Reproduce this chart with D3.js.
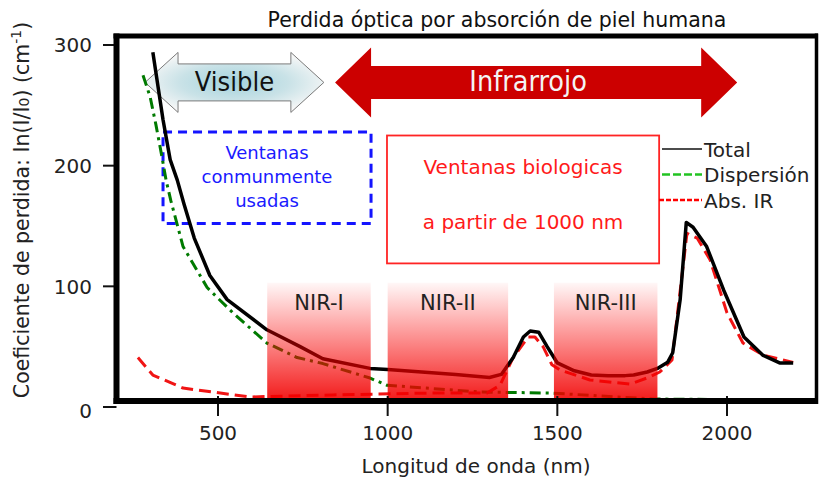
<!DOCTYPE html>
<html>
<head>
<meta charset="utf-8">
<script src="https://cdn.jsdelivr.net/npm/d3@7"></script>
<style>
  body { margin: 0; background: #fff; }
  svg { display: block; font-family: "DejaVu Sans", Verdana, sans-serif; }
  .cond { font-family: "DejaVu Sans Condensed", "DejaVu Sans", sans-serif; font-stretch: condensed; }
</style>
</head>
<body>
<svg id="viz" width="820" height="479"></svg>
<script>
// --- data ---
const totalWl  = [308, 338, 359, 380, 400, 430, 476, 527, 644, 742, 809, 948, 1000, 1100, 1200, 1300, 1335, 1370, 1400, 1420, 1445, 1470, 1490, 1500, 1550, 1600, 1650, 1700, 1725, 1765, 1795, 1825, 1840, 1862, 1880, 1900, 1940, 1990, 2050, 2105, 2155, 2195];
const totalVal = [294, 238, 205, 188, 168, 140, 109, 89, 64, 50, 40, 32, 31, 29, 27, 24.5, 27, 41, 58, 63, 62, 50, 41, 36.5, 30, 26.5, 26, 26, 26.5, 29, 32, 37, 45, 89, 153, 149, 133, 97, 58, 43, 36.5, 36.5];

const dispWl  = [279, 300, 317, 335, 347, 361, 397, 468, 544, 644, 733, 809, 948, 998, 1272, 1478, 1782, 2195];
const dispVal = [275, 257, 234, 207, 188, 171, 133, 99, 78, 53, 41, 36, 24, 18, 12.4, 11.6, 6.6, 5.8];

const absWl  = [264, 308, 397, 594, 839, 1134, 1293, 1331, 1369, 1414, 1434, 1458, 1484, 1508, 1596, 1714, 1764, 1802, 1838, 1882, 1912, 1950, 2000, 2047, 2106, 2195];
const absVal = [41, 26.5, 15.7, 8.3, 10, 11.6, 11.6, 18, 40.6, 58, 58, 50, 35, 30.7, 22.4, 19, 24, 29, 39, 144, 140, 122, 78, 53, 43, 37];

const nirLabels = ["NIR-I", "NIR-II", "NIR-III"];
const nirStart  = [645, 1000, 1490];
const nirEnd    = [950, 1355, 1795];
const nirTop    = 103;

const arrowLabels = ["Visible", "Infrarrojo"];
const arrowFrom   = [285, 845];
const arrowTo     = [812, 2030];
const arrowLevel  = 269;

const blueBoxWl = [338, 951], blueBoxVal = [152, 228];
const blueText  = ["Ventanas", "conmunmente", "usadas"];
const redBoxWl  = [998, 1800], redBoxVal = [119, 225];
const redText   = ["Ventanas biologicas", "a partir de 1000 nm"];

const xTicks = [500, 1000, 1500, 2000];
const yTicks = [0, 100, 200, 300];
const legendLabels = ["Total", "Dispersión", "Abs. IR"];

// --- scales ---
const x = d3.scaleLinear().domain([500, 2000]).range([218, 727]);
const y = d3.scaleLinear().domain([0, 300]).range([407, 45]);

const frame = { left: 116.5, right: 816.5, top: 36, bottom: 401 };

const svg = d3.select("#viz");
const defs = svg.append("defs");

const visGrad = defs.append("radialGradient").attr("id", "visGrad")
    .attr("cx", "50%").attr("cy", "50%").attr("r", "55%");
visGrad.append("stop").attr("offset", "0%").attr("stop-color", "#a4d3dd");
visGrad.append("stop").attr("offset", "55%").attr("stop-color", "#c9e2e7");
visGrad.append("stop").attr("offset", "100%").attr("stop-color", "#f7f7f7");

const nirGrad = defs.append("linearGradient").attr("id", "nirGrad")
    .attr("x1", 0).attr("y1", 0).attr("x2", 0).attr("y2", 1);
nirGrad.append("stop").attr("offset", "0%").attr("stop-color", "#ff0000").attr("stop-opacity", 0.03);
nirGrad.append("stop").attr("offset", "100%").attr("stop-color", "#f00000").attr("stop-opacity", 0.9);

// title
svg.append("text")
    .attr("x", 497).attr("y", 27).attr("text-anchor", "middle")
    .attr("font-size", 20.5).attr("fill", "#111")
    .text("Perdida óptica por absorción de piel humana");

// double arrows
function arrowPath(x1, x2, cy, head, hh, sh) {
    return `M${x1},${cy} L${x1 + head},${cy - hh} L${x1 + head},${cy - sh} L${x2 - head},${cy - sh}
            L${x2 - head},${cy - hh} L${x2},${cy} L${x2 - head},${cy + hh} L${x2 - head},${cy + sh}
            L${x1 + head},${cy + sh} L${x1 + head},${cy + hh} Z`;
}
const cy = y(arrowLevel);
svg.append("path")
    .attr("d", arrowPath(x(arrowFrom[0]), x(arrowTo[0]), cy, 33, 30, 18.5))
    .attr("fill", "url(#visGrad)").attr("stroke", "#7a7a7a").attr("stroke-width", 1);
svg.append("path")
    .attr("d", arrowPath(x(arrowFrom[1]), x(arrowTo[1]), cy, 36, 35, 16.5))
    .attr("fill", "#cc0000");
svg.append("text").attr("class", "cond")
    .attr("x", (x(arrowFrom[0]) + x(arrowTo[0])) / 2).attr("y", cy + 9)
    .attr("text-anchor", "middle").attr("font-size", 27).attr("fill", "#111")
    .text(arrowLabels[0]);
svg.append("text").attr("class", "cond")
    .attr("x", (x(arrowFrom[1]) + x(arrowTo[1])) / 2 - 8).attr("y", cy + 9)
    .attr("text-anchor", "middle").attr("font-size", 28.5).attr("fill", "#f4f4f4")
    .text(arrowLabels[1]);

// annotation boxes
svg.append("rect")
    .attr("x", x(blueBoxWl[0])).attr("y", y(blueBoxVal[1]))
    .attr("width", x(blueBoxWl[1]) - x(blueBoxWl[0]))
    .attr("height", y(blueBoxVal[0]) - y(blueBoxVal[1]))
    .attr("fill", "none").attr("stroke", "#1414ff").attr("stroke-width", 3)
    .attr("stroke-dasharray", "9,6");
blueText.forEach((t, i) => {
    svg.append("text")
        .attr("x", (x(blueBoxWl[0]) + x(blueBoxWl[1])) / 2)
        .attr("y", y(blueBoxVal[1]) + 27 + i * 24)
        .attr("text-anchor", "middle").attr("font-size", 18).attr("fill", "#1a1aff")
        .text(t);
});

svg.append("rect")
    .attr("x", x(redBoxWl[0])).attr("y", y(redBoxVal[1]))
    .attr("width", x(redBoxWl[1]) - x(redBoxWl[0]))
    .attr("height", y(redBoxVal[0]) - y(redBoxVal[1]))
    .attr("fill", "#fff").attr("stroke", "#ff2424").attr("stroke-width", 1.8);
redText.forEach((t, i) => {
    svg.append("text")
        .attr("x", (x(redBoxWl[0]) + x(redBoxWl[1])) / 2)
        .attr("y", y(redBoxVal[1]) + 38 + i * 55)
        .attr("text-anchor", "middle").attr("font-size", 20).attr("fill", "#ff1a1a")
        .text(t);
});

// curves
const line = d3.line().x(d => x(d[0])).y(d => y(d[1]));
const series = [
    { wl: dispWl, val: dispVal, color: "#007a00", width: 3, dash: "11,5,3,5" },
    { wl: absWl, val: absVal, color: "#f01414", width: 3, dash: "12,6" },
    { wl: totalWl, val: totalVal, color: "#000", width: 3.5, dash: null }
];
series.forEach(s => {
    svg.append("path")
        .attr("d", line(d3.zip(s.wl, s.val)))
        .attr("fill", "none").attr("stroke", s.color)
        .attr("stroke-width", s.width)
        .attr("stroke-linejoin", "round")
        .attr("stroke-dasharray", s.dash);
});

// NIR windows (drawn over the curves)
nirLabels.forEach((lab, i) => {
    svg.append("rect")
        .attr("x", x(nirStart[i])).attr("y", y(nirTop))
        .attr("width", x(nirEnd[i]) - x(nirStart[i]))
        .attr("height", frame.bottom - y(nirTop))
        .attr("fill", "url(#nirGrad)");
    svg.append("text")
        .attr("x", (x(nirStart[i]) + x(nirEnd[i])) / 2).attr("y", 310)
        .attr("text-anchor", "middle").attr("font-size", 21).attr("fill", "#222")
        .text(lab);
});

// legend
const legendStyles = [
    { color: "#111", width: 1.5, dash: null, x0: 662 },
    { color: "#22c322", width: 2.5, dash: "8,3", x0: 662 },
    { color: "#ff0000", width: 2.5, dash: "5,2", x0: 659 }
];
legendLabels.forEach((lab, i) => {
    const ly = 149 + i * 25.5;
    const st = legendStyles[i];
    svg.append("line")
        .attr("x1", st.x0).attr("x2", 702).attr("y1", ly).attr("y2", ly)
        .attr("stroke", st.color).attr("stroke-width", st.width)
        .attr("stroke-dasharray", st.dash);
    svg.append("text")
        .attr("x", 704).attr("y", ly + 7.5)
        .attr("font-size", 20).attr("fill", "#222")
        .text(lab);
});

// axes ticks
const ax = svg.append("g");
yTicks.forEach(v => {
    ax.append("line").attr("x1", 103).attr("x2", frame.left).attr("y1", y(v)).attr("y2", y(v))
        .attr("stroke", "#111").attr("stroke-width", 2);
    ax.append("text").attr("x", 92).attr("y", y(v)).attr("dy", v === 0 ? "0.55em" : "0.36em")
        .attr("text-anchor", "end").attr("font-size", 20).attr("fill", "#222")
        .text(v);
});
xTicks.forEach(v => {
    ax.append("line").attr("x1", x(v)).attr("x2", x(v)).attr("y1", 396).attr("y2", 416)
        .attr("stroke", "#111").attr("stroke-width", 2);
    ax.append("text").attr("x", x(v)).attr("y", 440)
        .attr("text-anchor", "middle").attr("font-size", 20).attr("fill", "#222")
        .text(v);
});

// frame
svg.append("line").attr("x1", frame.left - 3).attr("x2", frame.right + 1.5)
    .attr("y1", frame.top).attr("y2", frame.top).attr("stroke", "#000").attr("stroke-width", 5);
svg.append("line").attr("x1", frame.left - 3).attr("x2", frame.right + 1.5)
    .attr("y1", frame.bottom).attr("y2", frame.bottom).attr("stroke", "#000").attr("stroke-width", 6);
svg.append("line").attr("x1", frame.left).attr("x2", frame.left)
    .attr("y1", frame.top - 2.5).attr("y2", frame.bottom + 3).attr("stroke", "#000").attr("stroke-width", 6);
svg.append("line").attr("x1", frame.right).attr("x2", frame.right)
    .attr("y1", frame.top - 2.5).attr("y2", frame.bottom + 3).attr("stroke", "#000").attr("stroke-width", 3.5);

// axis titles
svg.append("text").attr("x", 476).attr("y", 473)
    .attr("text-anchor", "middle").attr("font-size", 20).attr("fill", "#222")
    .text("Longitud de onda (nm)");

const yl = svg.append("text")
    .attr("transform", "translate(29,210) rotate(-90)")
    .attr("text-anchor", "middle").attr("font-size", 20.5).attr("fill", "#222");
yl.append("tspan").text("Coeficiente de perdida: In(I/I");
yl.append("tspan").attr("font-size", 14).text("0");
yl.append("tspan").text(") (cm");
yl.append("tspan").attr("font-size", 14).attr("dy", -8).text("-1");
yl.append("tspan").attr("dy", 8).text(")");
</script>
</body>
</html>
